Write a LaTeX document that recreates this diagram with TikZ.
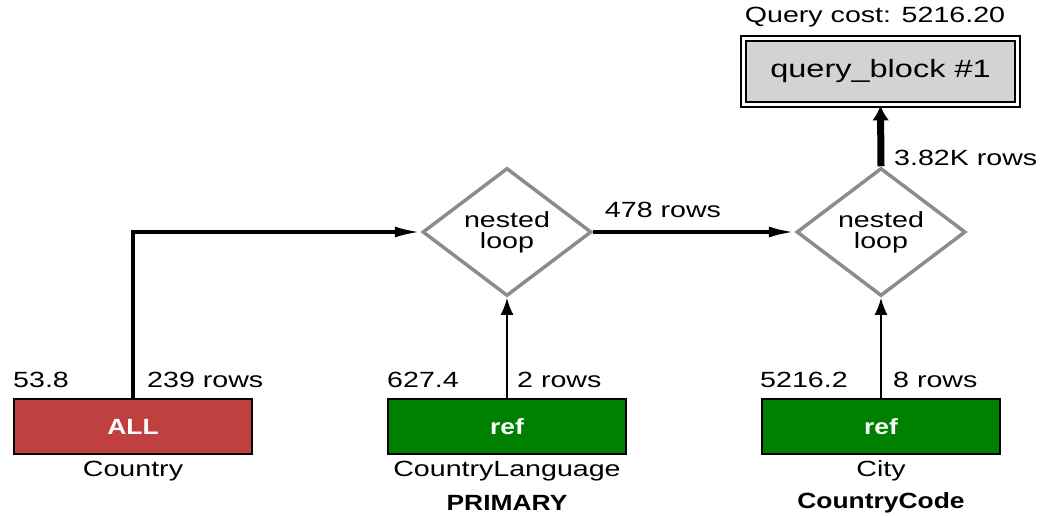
\documentclass[tikz,border=0pt]{standalone}
\usepackage{fontspec}
\setmainfont[FakeStretch=1.3,BoldFeatures={FakeStretch=1.2}]{Liberation Sans}
\usetikzlibrary{shapes.geometric,arrows.meta}
\definecolor{dgray}{HTML}{8C8C8C}
\definecolor{allred}{HTML}{C04040}
\definecolor{refgreen}{HTML}{008000}
\definecolor{qbgray}{HTML}{D3D3D3}
\begin{document}
\begin{tikzpicture}[x=1pt,y=-1pt,
  lbl/.style={font=\fontsize{22}{26}\selectfont, inner sep=0pt},
  tbl/.style={draw=black,line width=1.8pt,minimum width=238pt,minimum height=55pt,inner sep=0pt,text=white,font=\fontsize{22}{26}\selectfont\bfseries},
  nloop/.style={diamond,draw=dgray,line width=3.5pt,minimum width=169pt,minimum height=128pt,inner sep=0pt,align=center,font=\fontsize{22}{21}\selectfont},
  harrow/.style={line width=3.5pt,-{Latex[length=26pt,width=11pt]}},
  varrow/.style={line width=2.2pt,-{Latex[length=17pt,width=13pt]}},
]
\useasboundingbox (0,0) rectangle (1042,516);
% query block
\node[draw=black,line width=1.8pt,double,double distance=3pt,fill=qbgray,minimum width=274pt,minimum height=66pt,inner sep=0pt,font=\fontsize{25}{28}\selectfont] (qb) at (880.5,71.5) {query\_block \#1};
\node[lbl] (cost) at (875,17) {Query cost: 5216.20};
% nested loops
\node[nloop] (nl1) at (507,232) {nested\\loop};
\node[nloop] (nl2) at (881,232) {nested\\loop};
% tables
\node[tbl,fill=allred] (country) at (133,426.5) {ALL};
\node[tbl,fill=refgreen] (cl) at (507,426.5) {ref};
\node[tbl,fill=refgreen] (city) at (881,426.5) {ref};
% table labels
\node[lbl] (countryname) at (133,471) {Country};
\node[lbl] (clname) at (507,471) {CountryLanguage};
\node[lbl,font=\fontsize{22}{26}\selectfont\bfseries] (clkey) at (507,503) {PRIMARY};
\node[lbl] (cityname) at (881,471) {City};
\node[lbl,font=\fontsize{22}{26}\selectfont\bfseries] (citykey) at (881,503) {CountryCode};
% costs and rows
\node[lbl,anchor=west] (c1) at (13,380) {53.8};
\node[lbl,anchor=west] (r1) at (147,380) {239 rows};
\node[lbl,anchor=west] (c2) at (387,380) {627.4};
\node[lbl,anchor=west] (r2) at (517,380) {2 rows};
\node[lbl,anchor=west] (c3) at (760,380) {5216.2};
\node[lbl,anchor=west] (r3) at (893,380) {8 rows};
\node[lbl] (r12) at (663,210) {478 rows};
\node[lbl,anchor=west] (rtop) at (894,158) {3.82K rows};
% edges
\draw[harrow] (country.north) |- (nl1.west);
\draw[harrow] (nl1.east) -- (nl2.west);
\draw[varrow] (cl.north) -- (nl1.south);
\draw[varrow] (city.north) -- (nl2.south);
\draw[line width=7pt,-{Latex[length=15pt,width=17pt]}] (nl2.north) -- (qb.south);
\end{tikzpicture}
\end{document}
